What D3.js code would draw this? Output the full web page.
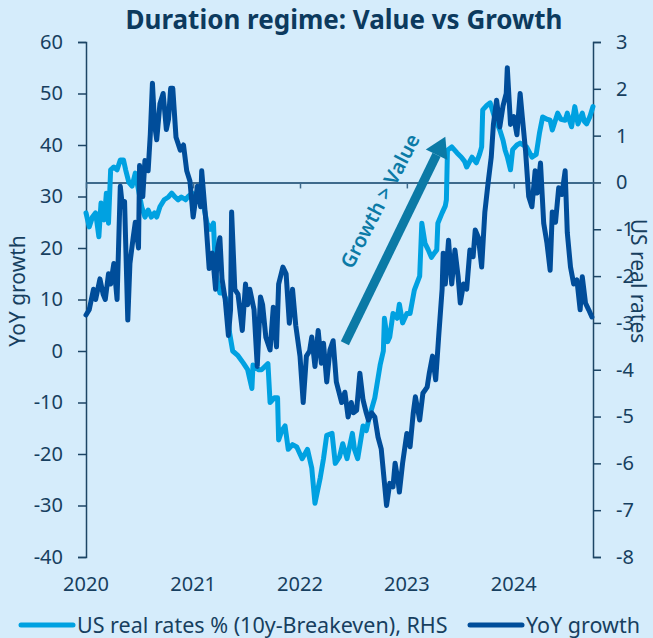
<!DOCTYPE html>
<html>
<head>
<meta charset="utf-8">
<script src="https://cdn.jsdelivr.net/npm/d3@7"></script>
<style>
  body { margin: 0; background: #d5ecfb; }
  text { font-family: "Noto Sans", "Open Sans", sans-serif; }
</style>
</head>
<body>
<div id="chart"></div>
<script>
////////////////////////////////////////////////////////////
//////////////////////// Data //////////////////////////////
////////////////////////////////////////////////////////////

// [decimal year, value]
var realRates = [
  [2020.00,-0.65],[2020.03,-0.95],[2020.06,-0.74],[2020.09,-0.65],[2020.12,-1.16],[2020.14,-0.44],
  [2020.17,-0.8],[2020.19,-0.23],[2020.21,-0.87],[2020.23,0.27],[2020.26,0.33],[2020.29,0.27],
  [2020.32,0.48],[2020.35,0.48],[2020.37,0.27],[2020.40,0],[2020.43,-0.08],[2020.46,0.2],
  [2020.49,-0.16],[2020.52,-0.52],[2020.55,-0.74],[2020.58,-0.59],[2020.61,-0.74],[2020.64,-0.65],
  [2020.66,-0.74],[2020.69,-0.52],[2020.73,-0.37],[2020.77,-0.31],[2020.80,-0.23],[2020.83,-0.31],
  [2020.86,-0.37],[2020.89,-0.31],[2020.93,-0.37],[2020.95,-0.31],[2020.99,-0.23],[2021.03,-0.31],
  [2021.07,-0.37],[2021.10,-0.52],[2021.13,-0.87],[2021.16,-1.0],[2021.19,-0.87],[2021.21,-1.93],
  [2021.25,-2.36],[2021.28,-2.36],[2021.31,-2.5],[2021.34,-3.2],[2021.37,-3.6],[2021.42,-3.7],
  [2021.47,-3.86],[2021.51,-4.0],[2021.55,-4.4],[2021.56,-3.9],[2021.61,-4.0],[2021.64,-4.0],
  [2021.70,-3.87],[2021.72,-4.7],[2021.76,-4.6],[2021.79,-4.6],[2021.80,-5.5],[2021.83,-5.3],
  [2021.86,-5.2],[2021.89,-5.7],[2021.93,-5.6],[2021.97,-5.65],[2022.02,-5.9],[2022.07,-5.7],
  [2022.11,-6.1],[2022.14,-6.85],[2022.19,-6.3],[2022.22,-5.9],[2022.25,-5.4],[2022.30,-5.36],
  [2022.33,-6.0],[2022.37,-5.86],[2022.40,-5.58],[2022.44,-5.9],[2022.49,-5.36],[2022.51,-5.7],
  [2022.54,-5.9],[2022.59,-5.2],[2022.62,-5.3],[2022.65,-5.0],[2022.70,-4.6],[2022.75,-3.9],
  [2022.78,-3.6],[2022.79,-2.9],[2022.82,-3.4],[2022.84,-3.3],[2022.87,-2.8],[2022.91,-2.9],
  [2022.93,-2.6],[2022.96,-3.0],[2023.00,-2.8],[2023.03,-2.8],[2023.07,-2.3],[2023.12,-2.0],
  [2023.14,-0.87],[2023.17,-1.3],[2023.20,-1.44],[2023.23,-1.6],[2023.26,-1.5],[2023.28,-1.44],
  [2023.29,-0.87],[2023.33,-0.65],[2023.36,-0.5],[2023.37,-0.37],[2023.38,0.69],[2023.42,0.76],
  [2023.47,0.63],[2023.51,0.54],[2023.54,0.45],[2023.56,0.33],[2023.61,0.54],[2023.65,0.42],
  [2023.68,0.6],[2023.70,0.76],[2023.71,1.55],[2023.75,1.65],[2023.78,1.7],[2023.82,1.4],
  [2023.87,1.12],[2023.90,0.9],[2023.92,0.69],[2023.94,0.55],[2023.97,0.27],[2023.99,0.7],
  [2024.03,0.8],[2024.06,0.84],[2024.09,0.8],[2024.12,0.76],[2024.17,0.54],[2024.21,0.6],
  [2024.24,1.05],[2024.27,1.4],[2024.31,1.35],[2024.34,1.33],[2024.36,1.12],[2024.41,1.48],
  [2024.44,1.35],[2024.48,1.33],[2024.50,1.48],[2024.54,1.19],[2024.57,1.62],[2024.60,1.25],
  [2024.64,1.48],[2024.66,1.3],[2024.68,1.25],[2024.71,1.4],[2024.74,1.62]
];

var yoyGrowth = [
  [2020.00,7],[2020.03,8],[2020.07,12],[2020.09,10],[2020.13,14],[2020.16,11],[2020.18,10],
  [2020.21,15],[2020.23,13],[2020.26,17],[2020.29,10],[2020.32,32],[2020.34,28],[2020.36,29],
  [2020.39,6],[2020.41,17],[2020.44,22],[2020.46,25],[2020.49,20],[2020.50,36],[2020.53,30],
  [2020.55,37],[2020.58,35],[2020.60,42],[2020.62,52],[2020.64,44],[2020.66,41],[2020.69,48],
  [2020.72,50],[2020.75,43],[2020.77,45],[2020.79,51],[2020.81,51],[2020.84,41.5],[2020.88,39],
  [2020.91,40],[2020.94,35],[2020.97,33],[2021.00,26],[2021.04,32],[2021.07,28],[2021.08,35],
  [2021.12,25],[2021.15,16],[2021.18,19],[2021.21,12],[2021.23,20],[2021.25,22],[2021.27,14],
  [2021.30,10],[2021.33,3],[2021.35,8],[2021.36,27],[2021.39,12],[2021.42,11],[2021.46,4],
  [2021.49,13],[2021.51,9],[2021.53,12],[2021.57,8],[2021.60,-3],[2021.63,10.5],[2021.65,9],
  [2021.68,2.7],[2021.72,0.2],[2021.75,8.5],[2021.78,0.8],[2021.80,13],[2021.84,16.3],[2021.87,15],
  [2021.90,5.4],[2021.93,12],[2021.96,5],[2022.00,-1],[2022.03,-10],[2022.06,-1],[2022.09,0],
  [2022.11,2.7],[2022.14,-3],[2022.17,4],[2022.20,-2.4],[2022.22,1.5],[2022.25,-6],[2022.28,0.2],
  [2022.31,2],[2022.34,-6],[2022.36,-7.6],[2022.39,-10],[2022.42,-8],[2022.45,-12.8],[2022.48,-10],
  [2022.50,-12],[2022.53,-11.5],[2022.56,-4.3],[2022.59,-9.5],[2022.62,-12],[2022.64,-13.4],
  [2022.67,-12],[2022.70,-12.8],[2022.73,-16.7],[2022.76,-19],[2022.79,-25.6],[2022.81,-30],
  [2022.84,-25.7],[2022.87,-26.4],[2022.89,-21.8],[2022.92,-25.6],[2022.93,-27.4],[2022.96,-21.8],
  [2023.00,-16],[2023.03,-18.6],[2023.06,-12],[2023.08,-8.9],[2023.12,-13.4],[2023.15,-8.2],
  [2023.19,-7],[2023.21,-4.3],[2023.24,-1],[2023.27,-5.6],[2023.30,3.5],[2023.33,12],[2023.34,19],
  [2023.36,13],[2023.39,21.5],[2023.42,13],[2023.45,19.6],[2023.48,14.4],[2023.50,9.3],[2023.53,13],
  [2023.56,12],[2023.59,19.6],[2023.62,18.3],[2023.64,23.5],[2023.67,22],[2023.70,16.3],[2023.73,27],
  [2023.76,32.6],[2023.79,37.7],[2023.81,44],[2023.84,48.7],[2023.87,43.5],[2023.90,47.6],[2023.93,50],
  [2023.94,55],[2023.97,44],[2024.00,45.5],[2024.03,42],[2024.06,50],[2024.08,45.5],[2024.11,39],
  [2024.14,30],[2024.17,28],[2024.20,35],[2024.22,30.7],[2024.25,36.5],[2024.28,24.8],[2024.31,21],
  [2024.34,15.7],[2024.36,27],[2024.39,25],[2024.42,31.7],[2024.45,30.4],[2024.48,35],[2024.50,23],
  [2024.53,16.3],[2024.56,13],[2024.59,13.8],[2024.62,8],[2024.64,14.4],[2024.67,9.3],[2024.70,8],
  [2024.73,6.6]
];

var leftTicks = [-40, -30, -20, -10, 0, 10, 20, 30, 40, 50, 60];
var rightTicks = [-8, -7, -6, -5, -4, -3, -2, -1, 0, 1, 2, 3];
var yearTicks = [2020, 2021, 2022, 2023, 2024];

var titleText = "Duration regime: Value vs Growth";
var seriesNames = ["US real rates % (10y-Breakeven), RHS", "YoY growth"];
var annotation = { text: "Growth > Value", from: [2022.42, 1.5], to: [2023.36, 41.6], at: [2022.75, 29.1] };

////////////////////////////////////////////////////////////
//////////////////////// Set-Up ////////////////////////////
////////////////////////////////////////////////////////////

var width = 653, height = 638;
var margin = {left: 86, right: 60, top: 42, bottom: 81};
var colLight = "#00a1e1", colDark = "#004d9a", colAxis = "#1d4565", colText = "#173f5f";

function toDate(t) {
  var y = Math.floor(t), s = new Date(y, 0, 1), e = new Date(y + 1, 0, 1);
  return new Date(+s + (t - y) * (e - s));
}

var x = d3.scaleTime()
  .domain([toDate(2020), toDate(2024.74)])
  .range([margin.left, width - margin.right]);
var yL = d3.scaleLinear().domain([-40, 60]).range([height - margin.bottom, margin.top]);
var yR = d3.scaleLinear().domain([-8, 3]).range([height - margin.bottom, margin.top]);

var svg = d3.select("#chart").append("svg")
  .attr("width", width)
  .attr("height", height);

svg.append("rect").attr("width", width).attr("height", height).attr("fill", "#d5ecfb");

// title
svg.append("text")
  .attr("x", 344).attr("y", 29)
  .attr("text-anchor", "middle")
  .style("font-size", "26px").style("font-weight", "bold")
  .attr("fill", "#0c3a5e")
  .text(titleText);

////////////////////////////////////////////////////////////
//////////////////////// Axes //////////////////////////////
////////////////////////////////////////////////////////////

// plain hyphen for negatives, like the original
var fmt = function(d) { return String(d); };

var axL = svg.append("g")
  .attr("transform", "translate(" + margin.left + ",0)")
  .call(d3.axisLeft(yL).tickValues(leftTicks).tickFormat(fmt).tickSize(8).tickSizeOuter(8).tickPadding(15));

var axR = svg.append("g")
  .attr("transform", "translate(" + (width - margin.right) + ",0)")
  .call(d3.axisRight(yR).tickValues(rightTicks).tickFormat(fmt).tickSize(8).tickSizeOuter(8).tickPadding(15));

[axL, axR].forEach(function(a) {
  a.select(".domain").attr("stroke", colAxis).attr("stroke-width", 1.5);
  a.selectAll(".tick line").attr("stroke", colAxis).attr("stroke-width", 1.5);
  a.selectAll("text").attr("fill", colText).style("font-size", "20px")
    .style("font-family", "'Noto Sans', sans-serif");
});

// zero line with year ticks
var axX = svg.append("g")
  .attr("transform", "translate(0," + yR(0) + ")")
  .call(d3.axisBottom(x).tickValues(yearTicks.map(toDate)).tickSize(6).tickSizeOuter(0).tickFormat(""));
axX.select(".domain").attr("stroke", "#3e6a8c").attr("stroke-width", 2);
axX.selectAll(".tick line").attr("stroke", "#3e6a8c").attr("stroke-width", 1.5);

// year labels at bottom
svg.selectAll("text.year")
  .data(yearTicks)
  .enter().append("text")
  .attr("class", "year")
  .attr("x", function(d) { return x(toDate(d)); })
  .attr("y", 591)
  .attr("text-anchor", "middle")
  .attr("fill", colText)
  .style("font-size", "20px")
  .text(function(d) { return d; });

// axis titles
svg.append("text")
  .attr("transform", "translate(25,291) rotate(-90)")
  .attr("text-anchor", "middle")
  .attr("fill", colText).style("font-size", "21px")
  .text("YoY growth");

svg.append("text")
  .attr("transform", "translate(631,281) rotate(90)")
  .attr("text-anchor", "middle")
  .attr("fill", colText).style("font-size", "21px")
  .text("US real rates");

////////////////////////////////////////////////////////////
//////////////////////// Lines /////////////////////////////
////////////////////////////////////////////////////////////

var lineR = d3.line()
  .x(function(d) { return x(toDate(d[0])); })
  .y(function(d) { return yR(d[1]); });
var lineL = d3.line()
  .x(function(d) { return x(toDate(d[0])); })
  .y(function(d) { return yL(d[1]); });

svg.append("path")
  .datum(realRates)
  .attr("d", lineR)
  .attr("fill", "none").attr("stroke", colLight)
  .attr("stroke-width", 5).attr("stroke-linejoin", "round").attr("stroke-linecap", "round");

svg.append("path")
  .datum(yoyGrowth)
  .attr("d", lineL)
  .attr("fill", "none").attr("stroke", colDark)
  .attr("stroke-width", 5).attr("stroke-linejoin", "round").attr("stroke-linecap", "round");

////////////////////////////////////////////////////////////
//////////////////////// Annotation ////////////////////////
////////////////////////////////////////////////////////////

var colArrow = "#0b7aa6";
var ax0 = x(toDate(annotation.from[0])), ay0 = yL(annotation.from[1]),
    ax1 = x(toDate(annotation.to[0])), ay1 = yL(annotation.to[1]);
var ang = Math.atan2(ay1 - ay0, ax1 - ax0);
var headLen = 20, headW = 12;
var bx = ax1 - headLen * Math.cos(ang), by = ay1 - headLen * Math.sin(ang);

svg.append("line")
  .attr("x1", ax0).attr("y1", ay0).attr("x2", bx).attr("y2", by)
  .attr("stroke", colArrow).attr("stroke-width", 9);

svg.append("polygon")
  .attr("points", [
    [ax1, ay1],
    [bx + headW * Math.sin(ang), by - headW * Math.cos(ang)],
    [bx - headW * Math.sin(ang), by + headW * Math.cos(ang)]
  ].map(function(p) { return p.join(","); }).join(" "))
  .attr("fill", colArrow);

svg.append("text")
  .attr("transform", "translate(" + x(toDate(annotation.at[0])) + "," + yL(annotation.at[1]) + ") rotate(" + (ang * 180 / Math.PI + 1.5) + ")")
  .attr("text-anchor", "middle")
  .attr("dy", "0.35em")
  .attr("fill", colArrow)
  .style("font-size", "20px").style("font-weight", 600)
  .text(annotation.text);

////////////////////////////////////////////////////////////
//////////////////////// Legend ////////////////////////////
////////////////////////////////////////////////////////////

var legendItems = [
  {name: seriesNames[0], color: colLight, x0: 21},
  {name: seriesNames[1], color: colDark, x0: 470}
];
var lg = svg.selectAll("g.legend")
  .data(legendItems)
  .enter().append("g")
  .attr("class", "legend")
  .attr("transform", function(d) { return "translate(" + d.x0 + ",625)"; });

lg.append("line")
  .attr("x1", 0).attr("x2", 52).attr("y1", 0).attr("y2", 0)
  .attr("stroke", function(d) { return d.color; })
  .attr("stroke-width", 5).attr("stroke-linecap", "round");

lg.append("text")
  .attr("x", 56).attr("y", 7.5)
  .attr("fill", colText)
  .style("font-size", "21.5px")
  .text(function(d) { return d.name; });
</script>
</body>
</html>
